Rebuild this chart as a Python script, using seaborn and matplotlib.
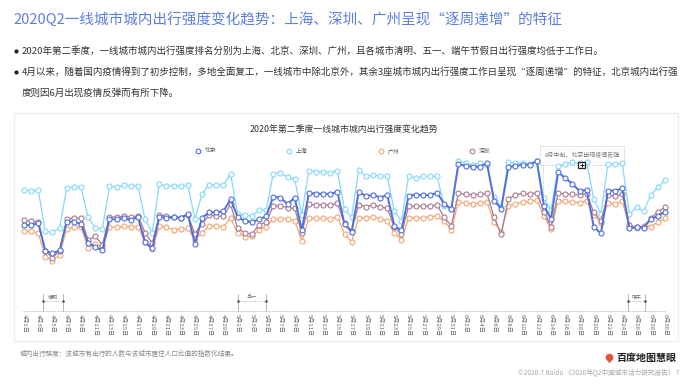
import pandas as pd
import seaborn as sns
import matplotlib.pyplot as plt
from matplotlib.patches import Rectangle

sns.set_theme(style="white")
plt.rcParams['font.family'] = ['Noto Sans CJK SC', 'DejaVu Sans']

# city mobility index (no y axis in the original)
shanghai = [364,360,362,239,236,249,370,372,372,281,248,246,374,372,377,376,376,275,235,381,375,376,375,378,276,351,379,378,378,412,291,
            289,284,304,304,412,415,401,396,289,421,418,418,414,421,305,282,422,404,409,404,405,299,270,406,398,404,404,404,314,307,450,
            444,438,444,438,341,313,446,444,444,442,450,338,303,435,441,446,443,447,335,291,441,440,443,290,311,299,348,371,393]
beijing = [259,257,264,180,173,182,268,268,261,205,192,182,275,275,278,274,281,206,188,282,279,281,280,291,201,280,296,296,299,335,283,
           270,267,275,284,343,340,321,340,243,354,352,352,351,358,260,238,358,344,349,340,348,255,242,346,349,348,348,354,322,306,441,
           435,433,433,443,331,307,431,436,438,439,450,316,276,416,399,381,360,363,252,233,361,361,368,248,252,250,276,285,298]
shenzhen = [272,269,268,179,160,180,275,280,278,213,224,199,283,281,285,282,285,235,203,288,286,282,279,288,231,262,287,285,284,320,248,
            235,231,258,267,315,316,310,308,233,321,318,318,318,323,263,241,319,313,318,312,309,251,231,315,314,315,315,318,281,256,354,
            350,349,350,353,281,230,336,349,353,350,355,298,251,354,351,350,349,352,296,271,347,345,351,258,251,253,278,298,311]
guangzhou = [241,240,233,163,151,168,246,251,251,190,201,191,251,251,254,253,253,206,185,254,252,243,246,248,213,235,255,255,253,279,235,
             223,224,243,253,276,276,277,271,210,279,278,278,277,283,231,208,280,279,283,277,270,233,213,280,280,280,282,285,269,244,328,
             323,322,324,328,266,238,316,321,327,329,333,285,246,330,329,327,325,331,288,263,324,322,329,253,248,256,253,267,278]

days = pd.date_range("2020-04-01", "2020-06-30")
day_labels = [f"{d.month}月{d.day}日" for d in days]

W, H = 693, 384
fig = plt.figure(figsize=(W / 100, H / 100), dpi=100)

# page layer in pixel coordinates
bg = fig.add_axes([0, 0, 1, 1])
bg.set_xlim(0, W)
bg.set_ylim(H, 0)
bg.axis("off")
bg.add_patch(Rectangle((14, 113), 664, 228, fc="white", ec="#eeeeee", lw=1))

bg.text(13, 20, "2020Q2一线城市城内出行强度变化趋势：上海、深圳、广州呈现“逐周递增”的特征",
        fontsize=10.5, color="#5b7fe0", va="center")
bullets = [(51, "2020年第二季度，一线城市城内出行强度排名分别为上海、北京、深圳、广州，且各城市清明、五一、端午节假日出行强度均低于工作日。"),
           (72, "4月以来，随着国内疫情得到了初步控制，多地全面复工，一线城市中除北京外，其余3座城市城内出行强度工作日呈现“逐周递增”的特征，北京城内出行强"),
           (93, "度则因6月出现疫情反弹而有所下降。")]
for y, txt in bullets:
    bg.text(22, y, txt, fontsize=6.85, color="#333333", va="center")
for y in bullets[0][0], bullets[1][0]:
    bg.plot([16], [y], "o", ms=2, color="#222222")

bg.text(344, 129, "2020年第二季度一线城市城内出行强度变化趋势", fontsize=6.4, color="#333333", ha="center", va="center")
bg.text(20, 354, "城内出行强度：该城市有出行的人数与该城市居住人口比值的指数化结果。", fontsize=4.8, color="#888888", va="center")
bg.text(680, 372, "©2020.7 Baidu 《2020年Q2中国城市活力研究报告》 7", fontsize=4.8, color="#aaaaaa", ha="right", va="center")
bg.text(676, 358, "百度地图慧眼", fontsize=7.2, color="#222222", ha="right", va="center", fontweight="bold")
bg.plot([609], [359], marker="v", ms=4.5, color="#e8503a")
bg.plot([609], [357], marker="o", ms=4.5, color="#e8503a")

# axis line and holiday brackets
bg.plot([23, 665], [311, 311], color="#999999", lw=0.5, ls=(0, (1, 1)))
for x0, x1, name in [(43, 63, "清明"), (238, 266, "五一"), (628, 645, "端午")]:
    bg.plot([x0, x0], [294, 311], color="#aaaaaa", lw=0.6)
    bg.plot([x1, x1], [294, 311], color="#aaaaaa", lw=0.6)
    bg.plot([x0, x1], [301, 301], color="#888888", lw=0.5, ls=":")
    bg.plot([x0, x1], [301, 301], "o", ms=0.9, color="#555555")
    bg.text((x0 + x1) / 2, 297, name, fontsize=3.6, color="#666666", ha="center", va="center")

# callout box for the June rebound sits behind the lines
bg.add_patch(Rectangle((540, 146), 84, 19, fc="white", ec="#aaaaaa", lw=0.6, ls=":"))
bg.plot([543, 543], [165, 200], color="#aaaaaa", lw=0.6, ls=":")
bg.text(582, 155, "6月中旬，北京出现疫情反弹", fontsize=4.3, color="#777777", ha="center", va="center")

# data layer: 1 px = 3 index units, baseline at y=311, first day at x=24, last at x=665
left, right, top, bottom = 14, 678, 113, 311
ax = fig.add_axes([left / W, 1 - bottom / H, (right - left) / W, (bottom - top) / H])
ax.patch.set_alpha(0)
step = (665 - 24) / 90
ax.set_xlim(days[0] - pd.Timedelta(days=(24 - left) / step), days[-1] + pd.Timedelta(days=(right - 665) / step))
ax.set_ylim(0, (bottom - top) * 3)

styles = [("上海", shanghai, "#85d8fb", 0.9), ("广州", guangzhou, "#f3a673", 0.9),
          ("深圳", shenzhen, "#a97a93", 0.9), ("北京", beijing, "#4f6fdc", 1.4)]
for name, vals, color, lw in styles:
    df = pd.DataFrame({"day": days, "value": vals})
    sns.lineplot(data=df, x="day", y="value", ax=ax, color=color, linewidth=lw, marker="o", markersize=3.6,
                 markerfacecolor="white", markeredgecolor=color, markeredgewidth=0.8, legend=False)

for hx, name in zip([198, 289, 381, 472], ["北京", "上海", "广州", "深圳"]):
    color = [s[2] for s in styles if s[0] == name][0]
    bg.plot([hx], [151], "o", ms=3.4, mfc="white", mec=color, mew=0.8)
    bg.text(hx + 7, 151, name, fontsize=4.2, color="#555555", va="center")

sns.despine(ax=ax, left=True, right=True, top=True, bottom=True)
ax.set_yticks([])
ax.set_xlabel("")
ax.set_ylabel("")
ax.set_xticks(days[::2])
ax.set_xticklabels(day_labels[::2], rotation=-90, fontsize=4.3, color="#666666")
ax.tick_params(axis="x", length=0, pad=2.5)

# small black cursor square over the lines
fg = fig.add_axes([0, 0, 1, 1])
fg.set_xlim(0, W)
fg.set_ylim(H, 0)
fg.axis("off")
fg.add_patch(Rectangle((578, 162), 7, 6, fc="white", ec="#222222", lw=0.9))
fg.plot([581.5], [165], "+", ms=3.5, mew=0.7, color="#222222")

plt.savefig("out.png", dpi=100)
